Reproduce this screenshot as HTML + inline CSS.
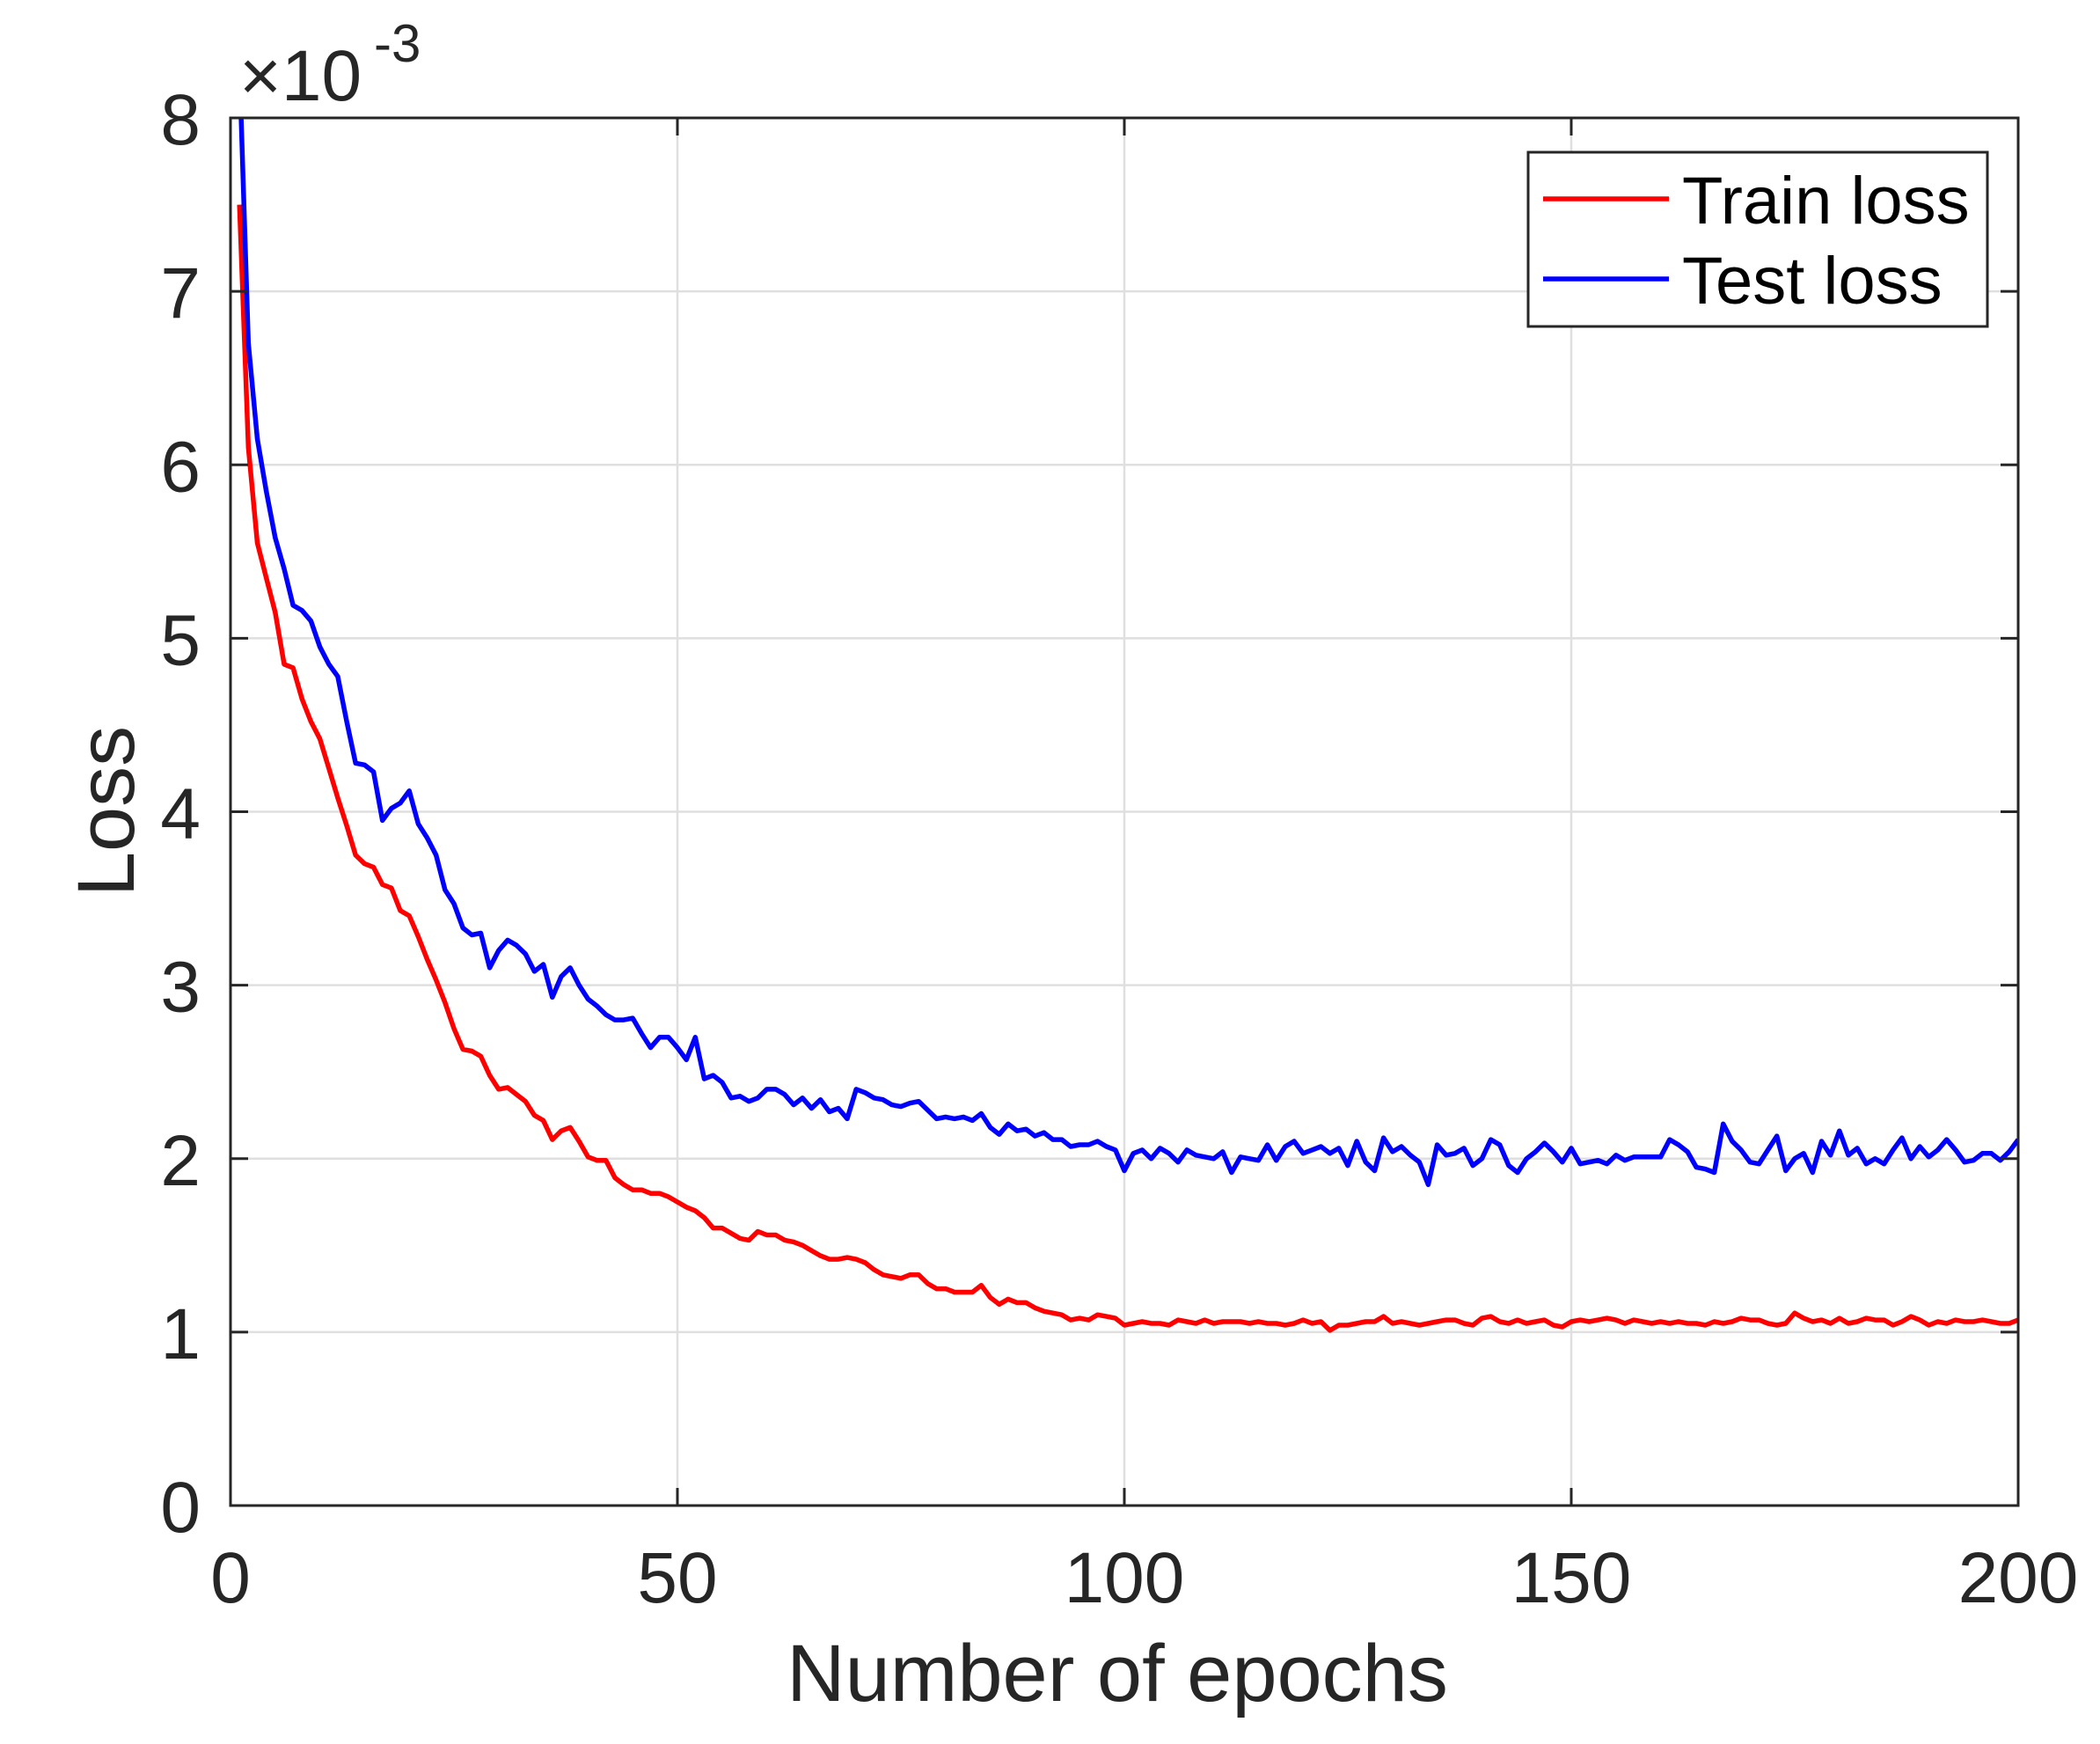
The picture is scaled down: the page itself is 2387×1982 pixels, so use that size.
<!DOCTYPE html>
<html><head><meta charset="utf-8"><style>
html,body{margin:0;padding:0;background:#fff;}
svg{display:block;}
text{font-family:"Liberation Sans",Arial,sans-serif;fill:#262626;}
</style></head><body>
<svg id="s" width="2387" height="1982" viewBox="0 0 2387 1982" xmlns="http://www.w3.org/2000/svg">
<rect width="2387" height="1982" fill="#fff"/>
<g id="grid" stroke="#dfdfdf" stroke-width="2.5"></g>
<g id="series" fill="none" stroke-width="5.5" stroke-linejoin="round"></g>
<rect x="262" y="134" width="2032" height="1577" fill="none" stroke="#262626" stroke-width="3"/>
<g id="ticks" stroke="#262626" stroke-width="3"></g>
<g id="labels" font-size="82"></g>
<text x="272" y="114" font-size="82">×10</text>
<text x="425" y="70" font-size="60">-3</text>
<text x="1270" y="1933" font-size="92" text-anchor="middle">Number of epochs</text>
<text transform="translate(152,922) rotate(-90)" font-size="92" text-anchor="middle">Loss</text>
<rect x="1737" y="173" width="522" height="198" fill="#fff" stroke="#262626" stroke-width="3"/>
<line x1="1754" y1="226" x2="1897" y2="226" stroke="#ff0000" stroke-width="5.5"/>
<line x1="1754" y1="317" x2="1897" y2="317" stroke="#0000ff" stroke-width="5.5"/>
<text x="1912" y="254" font-size="76" style="fill:#000">Train loss</text>
<text x="1912" y="345" font-size="76" style="fill:#000">Test loss</text>
</svg>
<script>
var L=262,R=2294,T=134,B=1711;
function X(e){return L+(R-L)*e/200;}
function Y(v){return B-(B-T)*v/8;}
var ns="http://www.w3.org/2000/svg";
function el(p,n,a){var e=document.createElementNS(ns,n);for(var k in a)e.setAttribute(k,a[k]);p.appendChild(e);return e;}
var g=document.getElementById('grid'),tk=document.getElementById('ticks'),lb=document.getElementById('labels');
for(var i=1;i<4;i++){var x=X(i*50);el(g,'line',{x1:x,y1:T,x2:x,y2:B});}
for(var j=1;j<8;j++){var y=Y(j);el(g,'line',{x1:L,y1:y,x2:R,y2:y});}
for(var i=0;i<=4;i++){var x=X(i*50);el(tk,'line',{x1:x,y1:B,x2:x,y2:B-20});el(tk,'line',{x1:x,y1:T,x2:x,y2:T+20});
var t=el(lb,'text',{x:x,y:1821,'text-anchor':'middle'});t.textContent=String(i*50);}
for(var j=0;j<=8;j++){var y=Y(j);el(tk,'line',{x1:L,y1:y,x2:L+20,y2:y});el(tk,'line',{x1:R,y1:y,x2:R-20,y2:y});
var t=el(lb,'text',{x:228,y:y+30,'text-anchor':'end'});t.textContent=String(j);}
var train=[7.5,6.1,5.55,5.35,5.15,4.85,4.83,4.65,4.52,4.42,4.25,4.08,3.92,3.75,3.7,3.68,3.58,3.56,3.43,3.4,3.28,3.15,3.03,2.9,2.75,2.63,2.62,2.59,2.48,2.4,2.41,2.37,2.33,2.25,2.22,2.11,2.16,2.18,2.1,2.01,1.99,1.99,1.89,1.85,1.82,1.82,1.8,1.8,1.78,1.75,1.72,1.7,1.66,1.6,1.6,1.57,1.54,1.53,1.58,1.56,1.56,1.53,1.52,1.5,1.47,1.44,1.42,1.42,1.43,1.42,1.4,1.36,1.33,1.32,1.31,1.33,1.33,1.28,1.25,1.25,1.23,1.23,1.23,1.27,1.2,1.16,1.19,1.17,1.17,1.14,1.12,1.11,1.1,1.07,1.08,1.07,1.1,1.09,1.08,1.04,
1.05,1.06,1.05,1.05,1.04,1.07,1.06,1.05,1.07,1.05,1.06,1.06,1.06,1.05,1.06,1.05,1.05,1.04,1.05,1.07,1.05,1.06,1.01,1.04,1.04,1.05,1.06,1.06,1.09,1.05,1.06,1.05,1.04,1.05,1.06,1.07,1.07,1.05,1.04,1.08,1.09,1.06,1.05,1.07,1.05,1.06,1.07,1.04,1.03,1.06,1.07,1.06,1.07,1.08,1.07,1.05,1.07,1.06,1.05,1.06,1.05,1.06,1.05,1.05,1.04,1.06,1.05,1.06,1.08,1.07,1.07,1.05,1.04,1.05,1.11,1.08,1.06,1.07,1.05,1.08,1.05,1.06,1.08,1.07,1.07,1.04,1.06,1.09,1.07,1.04,1.06,1.05,1.07,1.06,1.06,1.07,1.06,1.05,1.05,1.07];
var test=[8.3,6.7,6.15,5.85,5.58,5.4,5.19,5.16,5.1,4.95,4.85,4.78,4.52,4.28,4.27,4.23,3.95,4.02,4.05,4.12,3.93,3.85,3.75,3.55,3.47,3.33,3.29,3.3,3.1,3.2,3.26,3.23,3.18,3.08,3.12,2.93,3.05,3.1,3.0,2.92,2.88,2.83,2.8,2.8,2.81,2.72,2.64,2.7,2.7,2.64,2.57,2.7,2.46,2.48,2.44,2.35,2.36,2.33,2.35,2.4,2.4,2.37,2.31,2.35,2.29,2.34,2.27,2.29,2.23,2.4,2.38,2.35,2.34,2.31,2.3,2.32,2.33,2.28,2.23,2.24,2.23,2.24,2.22,2.26,2.18,2.14,2.2,2.16,2.17,2.13,2.15,2.11,2.11,2.07,2.08,2.08,2.1,2.07,2.05,1.93,2.03,2.05,2.0,2.06,2.03,1.98,2.05,2.02,2.01,2.0,2.04,1.92,2.01,2.0,1.99,2.08,1.99,2.07,2.1,2.03,2.05,2.07,2.03,2.06,1.96,2.1,1.98,1.93,2.12,2.04,2.07,2.02,1.98,1.85,2.08,2.02,2.03,2.06,1.96,2.0,2.11,2.08,1.96,1.92,2.0,2.04,2.09,2.04,1.98,2.06,1.97,1.98,1.99,1.97,2.02,1.99,2.01,2.01,2.01,2.01,2.11,2.08,2.04,1.95,1.94,1.92,2.2,2.1,2.05,1.98,1.97,2.05,2.13,1.93,2.0,2.03,1.92,2.1,2.02,2.16,2.02,2.06,1.97,2.0,1.97,2.05,2.12,2.0,2.07,2.01,2.05,2.11,2.05,1.98,1.99,2.03,2.03,1.99,2.04,2.11];
var s=document.getElementById('series');
el(el(s,'defs',{}),'clipPath',{id:'c'}).appendChild(document.createElementNS(ns,'rect'));
var cr=document.querySelector('#c rect');cr.setAttribute('x',L);cr.setAttribute('y',T);cr.setAttribute('width',R-L);cr.setAttribute('height',B-T);
function path(d,c){var p='';for(var i=0;i<d.length;i++){p+=(i?'L':'M')+X(i+1).toFixed(1)+','+Y(d[i]).toFixed(1);}el(s,'path',{d:p,stroke:c,'clip-path':'url(#c)'});}
path(train,'#ff0000');path(test,'#0000ff');
</script>
</body></html>
